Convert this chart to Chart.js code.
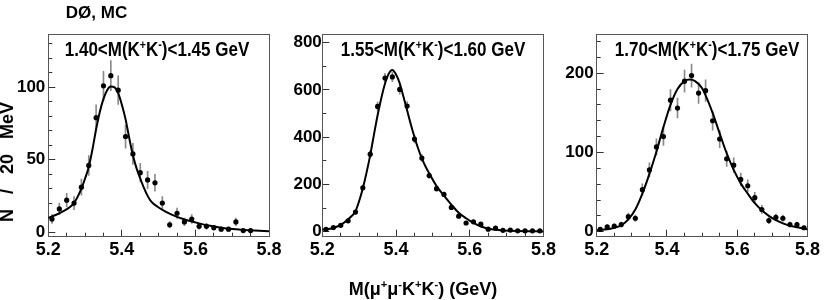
<!DOCTYPE html>
<html><head><meta charset="utf-8">
<script src="https://cdn.jsdelivr.net/npm/chart.js@4.4.0/dist/chart.umd.min.js"></script>
<style>
html,body{margin:0;padding:0;background:#fff;}
#wrap{position:relative;width:830px;height:300px;overflow:hidden;background:#fff;}
canvas{position:absolute;left:0;top:0;}
.t{position:absolute;font-family:'Liberation Sans',Arial,sans-serif;font-weight:bold;color:#000;white-space:nowrap;line-height:1;}
.c{transform:translate(-50%,-50%);}
sup{font-size:62%;vertical-align:0.6em;line-height:0;}
</style></head><body>
<div id="wrap">
<canvas id="c1" width="830" height="300"></canvas>
<canvas id="c2" width="830" height="300"></canvas>
<canvas id="c3" width="830" height="300"></canvas>
<div class="t c" style="left:96.5px;top:11.5px;font-size:17px">DØ, MC</div>
<div class="t c" style="left:156.5px;top:49px;font-size:20px"><span style="display:inline-block;transform:scaleX(0.85)">1.40&lt;M(K<sup>+</sup>K<sup>-</sup>)&lt;1.45 GeV</span></div>
<div class="t c" style="left:433.3px;top:49px;font-size:20px"><span style="display:inline-block;transform:scaleX(0.85)">1.55&lt;M(K<sup>+</sup>K<sup>-</sup>)&lt;1.60 GeV</span></div>
<div class="t c" style="left:706.7px;top:49px;font-size:20px"><span style="display:inline-block;transform:scaleX(0.85)">1.70&lt;M(K<sup>+</sup>K<sup>-</sup>)&lt;1.75 GeV</span></div>
<div class="t c" style="left:423px;top:289px;font-size:18px">M(μ<sup>+</sup>μ<sup>-</sup>K<sup>+</sup>K<sup>-</sup>) (GeV)</div>
<div class="t c" style="left:7px;top:162px;font-size:18px;transform:translate(-50%,-50%) rotate(-90deg);word-spacing:10px">N / 20 MeV</div>
</div>
<script>
const binCenters = [5.21,5.23,5.25,5.27,5.29,5.31,5.33,5.35,5.37,5.39,5.41,5.43,5.45,5.47,5.49,5.51,5.53,5.55,5.57,5.59,5.61,5.63,5.65,5.67,5.69,5.71,5.73,5.75,5.77,5.79];

const countsA = [9,16,22,20,31,46,79,101,108,98,66,54,41,36,34,20,5,13,7,9,4,4,3,2,2,7,1,1,null,null];
const errorsA = [3,4,4.7,4.5,5.6,6.8,8.9,10,10.4,9.9,8.1,7.3,6.4,6,5.8,4.5,2.2,3.6,2.6,3,2,2,1.7,1.4,1.4,2.6,1,1,null,null];
const fitXA = [5.20,5.22,5.24,5.26,5.27,5.28,5.29,5.30,5.31,5.32,5.33,5.34,5.35,5.36,5.37,5.38,5.39,5.40,5.41,5.42,5.43,5.44,5.45,5.46,5.47,5.48,5.50,5.52,5.55,5.58,5.61,5.64,5.67,5.70,5.73,5.76,5.80];
const fitYA = [9.8,11.8,14.3,17.5,20,24.5,30,37,45,57,71,83,92,98,100.5,100,96,88,78,65,53,44,37,30.5,25,21,17,14,10.5,8,6,4.3,3,2.1,1.5,1,0.5];

const countsB = [10,18,27,46,83,186,328,530,650,655,602,532,392,312,238,182,158,103,66,37,42,32,11,15,6,7,4,4,4,4];
const errorsB = [2.6,3.4,4.2,5.4,7.3,11,14.5,18.4,20.4,20.5,19.6,18.4,15.8,14.2,12.3,10.8,10.1,8.1,6.5,4.9,5.2,4.5,2.6,3.1,2,2,1.6,1.6,1.6,1.6];
const fitXB = [5.20,5.23,5.25,5.27,5.29,5.30,5.31,5.32,5.33,5.34,5.35,5.36,5.37,5.38,5.39,5.40,5.41,5.42,5.43,5.44,5.45,5.46,5.47,5.48,5.49,5.51,5.53,5.55,5.57,5.59,5.61,5.63,5.65,5.67,5.69,5.73,5.80];
const fitYB = [8,16,29,53,87,130,184,250,324,410,493,565,626,668,684,665,628,572,514,455,401,352,310,276,247,193,153,115,80,57,37,22,13,8,5.5,3,1.5];

const countsC = [3,6,7,9,19,17,53,78,107,120,166,156,190,197,175,178,140,117,92,84,66,58,43,28,14,18,17,9,9,5];
const errorsC = [1.7,2.4,2.6,3,4.4,4.1,7.3,8.8,10.3,11,13.5,12.5,14,14.5,13.2,13.6,11.8,10.8,9.6,9.2,8.1,7.6,6.6,5.3,3.7,4.2,4.1,3,3,2.2];
const fitXC = [5.20,5.23,5.25,5.27,5.29,5.31,5.33,5.35,5.37,5.39,5.41,5.43,5.45,5.465,5.48,5.50,5.51,5.53,5.55,5.57,5.59,5.61,5.63,5.65,5.67,5.69,5.71,5.73,5.75,5.77,5.80];
const fitYC = [2,3,5,8,15.5,28,48,73,101,132,160,180,190,192,190,181,172,150,124,99,78,61,48,36,27,20,14.5,10.5,7.5,5.5,3];

const xMajorTicks = [5.2,5.4,5.6,5.8];
const xMinorTicks = [5.25,5.3,5.35,5.45,5.5,5.55,5.65,5.7,5.75];
const yMajorA = [0,50,100];
const yMinorA = [10,20,30,40,60,70,80,90,110,120,130];
const yMajorB = [0,200,400,600,800];
const yMinorB = [100,300,500,700];
const yMajorC = [0,100,200];
const yMinorC = [20,40,60,80,120,140,160,180,220,240];

const FAM = "'Liberation Sans', Arial, sans-serif";

function makePanel(id, cfg) {
  const pts = [], bars = [];
  binCenters.forEach((x, i) => {
    if (cfg.counts[i] == null) return;
    pts.push({x: x, y: cfg.counts[i]});
    bars.push({x: x, y: [cfg.counts[i] - cfg.errors[i], cfg.counts[i] + cfg.errors[i]]});
  });
  const fit = cfg.fitX.map((x, i) => ({x: x, y: cfg.fitY[i]}));
  const frame = '#555';
  const tickCol = '#333';
  new Chart(document.getElementById(id), {
    type: 'scatter',
    data: {datasets: [
      {type: 'scatter', data: pts, xAxisID: 'x', yAxisID: 'y', pointRadius: 2.6, pointBackgroundColor: '#000', pointBorderWidth: 0, order: 0},
      {type: 'line', data: fit, xAxisID: 'x', yAxisID: 'y', borderColor: '#000', borderWidth: 2, pointRadius: 0, cubicInterpolationMode: 'monotone', fill: false, order: 1},
      {type: 'bar', data: bars, xAxisID: 'x', yAxisID: 'y', backgroundColor: '#8a8a8a', borderWidth: 0, barThickness: 1, grouped: false, order: 2}
    ]},
    options: {
      responsive: false, animation: false, devicePixelRatio: 1,
      layout: {autoPadding: false, padding: {left: cfg.padL, right: cfg.padR, top: 34, bottom: 0}},
      plugins: {legend: {display: false}, tooltip: {enabled: false}, title: {display: false}},
      scales: {
        x: {type: 'linear', axis: 'x', position: 'bottom', weight: 1, min: 5.2, max: 5.8, offset: false,
          afterBuildTicks: s => { s.ticks = xMajorTicks.map(v => ({value: v})); },
          afterFit: s => { s.height = 63.3; },
          ticks: {autoSkip: false, maxRotation: 0, padding: 10, color: '#000', font: {family: FAM, size: 18, weight: 'bold'}, callback: v => Number(v).toFixed(1)},
          grid: {offset: false, drawOnChartArea: false, drawTicks: true, tickLength: -7, tickColor: tickCol, tickWidth: 1},
          border: {display: true, color: frame, width: 1}},
        xm: {type: 'linear', axis: 'x', position: 'bottom', weight: 0, min: 5.2, max: 5.8, offset: false,
          afterBuildTicks: s => { s.ticks = xMinorTicks.map(v => ({value: v})); },
          afterFit: s => { s.height = 0; },
          ticks: {display: false},
          grid: {offset: false, drawOnChartArea: false, drawTicks: true, tickLength: -4, tickColor: tickCol, tickWidth: 1},
          border: {display: false}},
        xt: {type: 'linear', axis: 'x', position: 'top', afterFit: s => { s.height = 0; },
          ticks: {display: false}, grid: {drawOnChartArea: false, drawTicks: false},
          border: {display: true, color: frame, width: 1}},
        y: {type: 'linear', axis: 'y', position: 'left', weight: 1, min: cfg.yMin, max: cfg.yMax,
          afterBuildTicks: s => { s.ticks = cfg.yMajor.map(v => ({value: v})); },
          afterFit: s => { s.width = 40; },
          ticks: {autoSkip: false, padding: cfg.yPad, color: '#000', font: {family: FAM, size: 17, weight: 'bold'}, callback: v => String(v)},
          grid: {drawOnChartArea: false, drawTicks: true, tickLength: -7, tickColor: tickCol, tickWidth: 1},
          border: {display: true, color: frame, width: 1}},
        ym: {type: 'linear', axis: 'y', position: 'left', weight: 0, min: cfg.yMin, max: cfg.yMax,
          afterBuildTicks: s => { s.ticks = cfg.yMinor.map(v => ({value: v})); },
          afterFit: s => { s.width = 0; },
          ticks: {display: false},
          grid: {drawOnChartArea: false, drawTicks: true, tickLength: -4, tickColor: tickCol, tickWidth: 1},
          border: {display: false}},
        yr: {type: 'linear', axis: 'y', position: 'right', afterFit: s => { s.width = 0; },
          ticks: {display: false}, grid: {drawOnChartArea: false, drawTicks: false},
          border: {display: true, color: frame, width: 1}}
      }
    }
  });
}

makePanel('c1', {counts: countsA, errors: errorsA, fitX: fitXA, fitY: fitYA, yMin: -3.2, yMax: 136.8, yMajor: yMajorA, yMinor: yMinorA, padL: 8.3, padR: 561, yPad: 10});
makePanel('c2', {counts: countsB, errors: errorsB, fitX: fitXB, fitY: fitYB, yMin: -21, yMax: 836.6, yMajor: yMajorB, yMinor: yMinorB, padL: 282.3, padR: 286.5, yPad: 7.5});
makePanel('c3', {counts: countsC, errors: errorsC, fitX: fitXC, fitY: fitYC, yMin: -6.3, yMax: 249.5, yMajor: yMajorC, yMinor: yMinorC, padL: 556.7, padR: 13, yPad: 10});
</script>
</body></html>
